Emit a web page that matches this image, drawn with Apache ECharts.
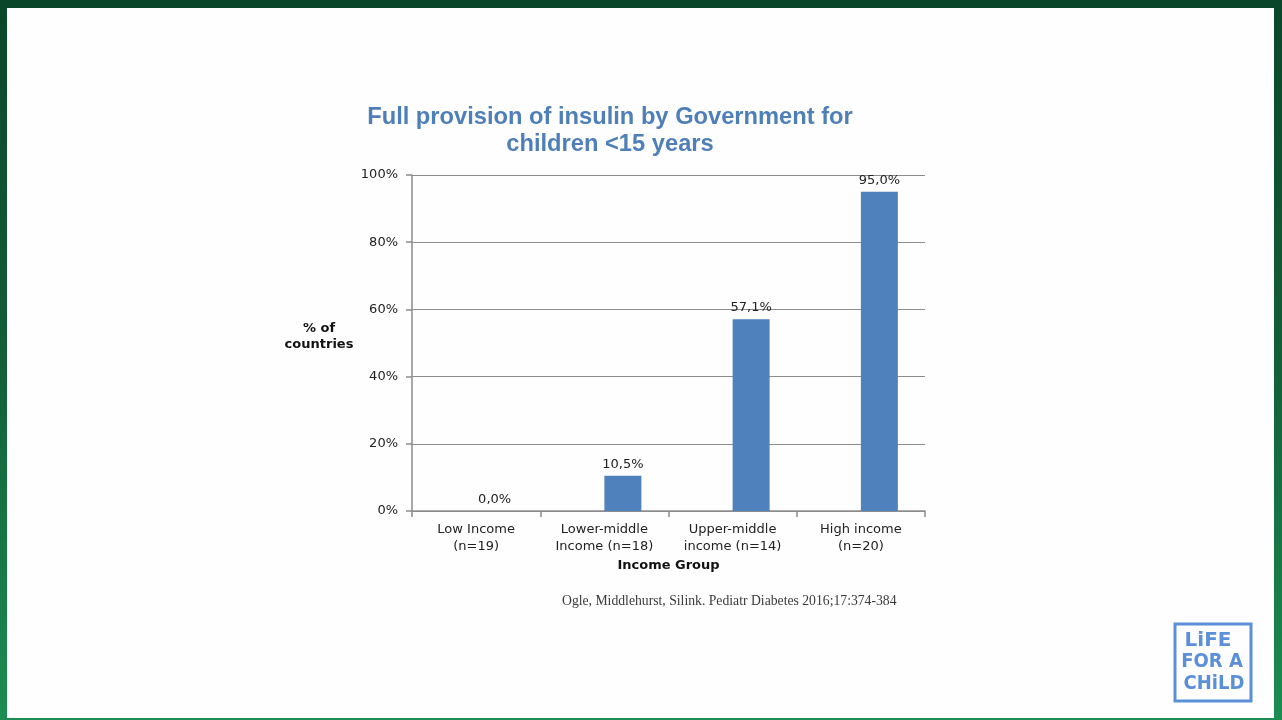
<!DOCTYPE html>
<html>
<head>
<meta charset="utf-8">
<script src="https://cdn.jsdelivr.net/npm/echarts@6/dist/echarts.min.js"></script>
<style>
  html, body { margin: 0; padding: 0; width: 1282px; height: 720px; overflow: hidden; }
  body { background: linear-gradient(to bottom, #0a472a 0%, #125f38 50%, #1b8d52 100%); position: relative; }
  #slide { position: absolute; left: 7px; top: 8px; width: 1267px; height: 710px; background: #fefefe; }
  #chart { position: absolute; left: 0; top: 0; width: 1282px; height: 720px; }
</style>
</head>
<body>
<div id="slide"></div>
<div id="chart"></div>
<script>
const categories = ['Low Income\n(n=19)', 'Lower-middle\nIncome (n=18)', 'Upper-middle\nincome (n=14)', 'High income\n(n=20)'];
const provisionValues = [0.0, 10.5, 57.1, 95.0];
const placeholderValues = [null, null, null, null];
const yTicks = [0, 20, 40, 60, 80, 100];

const chart = echarts.init(document.getElementById('chart'), null, { renderer: 'canvas' });
const axisGray = '#8c8c8c';
const font = 'DejaVu Sans';

chart.setOption({
  backgroundColor: 'transparent',
  animation: false,
  title: {
    text: 'Full provision of insulin by Government for\nchildren <15 years',
    left: 605,
    top: 99,
    textAlign: 'center',
    textStyle: {
      fontFamily: 'Liberation Sans',
      fontWeight: 'bold',
      fontSize: 23.7,
      lineHeight: 27,
      color: '#4f7fb8'
    }
  },
  grid: { left: 412, right: 357, top: 175, bottom: 209, containLabel: false },
  xAxis: {
    type: 'category',
    data: categories,
    boundaryGap: true,
    axisLine: { show: true, lineStyle: { color: axisGray, width: 1.5 } },
    axisTick: { show: true, interval: 0, length: 6, lineStyle: { color: axisGray, width: 1.5 } },
    axisLabel: { interval: 0, margin: 10, fontFamily: font, fontSize: 13, lineHeight: 17, color: '#222' },
    name: 'Income Group',
    nameLocation: 'middle',
    nameGap: 48,
    nameTextStyle: { fontFamily: font, fontWeight: 'bold', fontSize: 13, color: '#111' }
  },
  yAxis: {
    type: 'value',
    min: yTicks[0],
    max: yTicks[yTicks.length - 1],
    interval: yTicks[1] - yTicks[0],
    axisLine: { show: true, lineStyle: { color: axisGray, width: 1.5 } },
    axisTick: { show: true, length: 6, lineStyle: { color: axisGray, width: 1.5 } },
    splitLine: { show: true, lineStyle: { color: axisGray, width: 1.2 } },
    axisLabel: { formatter: '{value}%', margin: 14, fontFamily: font, fontSize: 13, color: '#222' }
  },
  series: [
    {
      type: 'bar',
      data: placeholderValues,
      barWidth: 37,
      barGap: '0%',
      itemStyle: { color: '#4f81bd' },
      silent: true
    },
    {
      type: 'bar',
      data: provisionValues,
      barWidth: 37,
      barGap: '0%',
      itemStyle: { color: '#4f81bd' },
      label: {
        show: true,
        position: 'top',
        distance: 5,
        fontFamily: font,
        fontSize: 13,
        color: '#222',
        formatter: p => p.value.toFixed(1).replace('.', ',') + '%'
      }
    }
  ],
  graphic: [
    {
      type: 'text',
      style: {
        text: '% of\ncountries',
        x: 319, y: 337,
        align: 'center', verticalAlign: 'middle',
        font: 'bold 13px "DejaVu Sans"',
        lineHeight: 16,
        fill: '#111'
      }
    },
    {
      type: 'text',
      style: {
        text: 'Ogle, Middlehurst, Silink. Pediatr Diabetes 2016;17:374-384',
        x: 562, y: 601,
        align: 'left', verticalAlign: 'middle',
        font: '13.7px "Liberation Serif"',
        fill: '#3a3a3a'
      }
    },
    {
      type: 'rect',
      shape: { x: 1175, y: 624, width: 76, height: 77 },
      style: { fill: 'none', stroke: '#5b8fd8', lineWidth: 3 }
    },
    {
      type: 'text',
      style: { text: 'LiFE', x: 1208, y: 641, align: 'center', verticalAlign: 'middle', font: 'bold 20px "DejaVu Sans"', fill: '#5b8fd8' }
    },
    {
      type: 'text',
      style: { text: 'FOR A', x: 1212, y: 662, align: 'center', verticalAlign: 'middle', font: 'bold 20px "DejaVu Sans Condensed"', fill: '#5b8fd8' }
    },
    {
      type: 'text',
      style: { text: 'CHiLD', x: 1214, y: 684, align: 'center', verticalAlign: 'middle', font: 'bold 20px "DejaVu Sans Condensed"', fill: '#5b8fd8' }
    }
  ]
});
</script>
</body>
</html>
